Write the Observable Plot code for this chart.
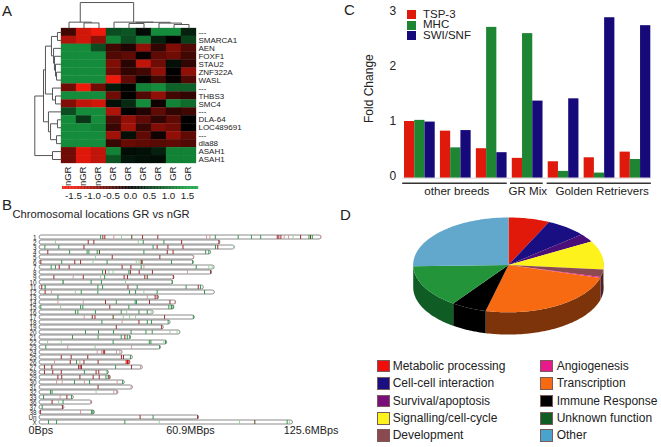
<!DOCTYPE html>
<html>
<head>
<meta charset="utf-8">
<script src="https://cdn.jsdelivr.net/npm/d3@7"></script>
<script src="https://cdn.jsdelivr.net/npm/@observablehq/plot@0.6"></script>
<style>
html,body{margin:0;padding:0;background:#fff}
#fig{position:relative;width:661px;height:447px;overflow:hidden;font-family:"Liberation Sans",Arial,sans-serif;color:#222}
#fig svg{position:absolute}
.t{position:absolute;white-space:nowrap;transform:translateY(-50%);line-height:1}
.s{position:absolute;box-sizing:border-box;border:1px solid #7d5a5a}
</style>
</head>
<body>
<div id="fig"></div>
<script>
// ---------- Panel A: heat map ----------
const heatRows = ["---","SMARCA1","AEN","FOXF1","STAU2","ZNF322A","WASL","---","THBS3","SMC4","---","DLA-64","LOC489691","---","dla88","ASAH1","ASAH1"];
const heatCols = ["nGR","nGR","nGR","GR","GR","GR","GR","GR","GR"];
const heatValues = [
 [-0.4,-1.3,-1.5, 0.7, 0.8, 0.1, 1.3, 1.3, 0.3],
 [-1.1,-1.3,-0.9, 1.2, 0.7, 1.1, 0.3, 0.0, 0.6],
 [ 1.3, 1.3, 0.7,-0.4,-0.2,-0.9,-0.3,-0.8,-0.5],
 [ 1.3, 1.3, 1.3,-0.5,-0.6,-0.05,-0.6,-0.7,-0.4],
 [ 1.3, 1.3, 1.3,-0.8,-0.25,-1.2,-0.7, 0.15,-0.3],
 [ 1.3, 1.3, 1.3,-0.7,-0.3,-0.4,-0.9, 0.0,-0.9],
 [ 1.3, 1.3, 1.3,-1.5,-0.6,-0.05,-0.4,-0.05,-0.5],
 [-0.7,-1.8,-0.7, 0.25, 0.05, 1.2, 1.3, 0.9, 0.9],
 [ 1.3, 1.3, 1.3,-0.7, 0.02,-0.5,-0.9,-0.4,-0.3],
 [-0.8,-1.2,-1.3, 0.15, 0.4, 1.3,-0.1, 1.2, 1.0],
 [ 0.7, 1.3, 1.3,-1.1, 0.02,-0.2,-0.6,-0.3,-0.4],
 [ 1.3, 0.5, 1.3,-0.5,-0.9,-0.6,-0.3,-0.6, 0.0],
 [ 1.3, 1.3, 1.2,-0.35,-1.0,-0.35,-0.8,-0.7, 0.0],
 [ 1.3, 1.3, 1.3,-1.0, 0.15,-0.6,-0.1,-0.9,-0.6],
 [ 1.3, 1.3, 1.3,-0.35,-0.65,-0.6,-0.55,-0.6,-0.5],
 [-0.7,-1.4,-1.2, 1.2, 0.12, 0.15, 0.3, 1.2, 1.2],
 [-0.7,-1.4,-1.2, 0.8, 0.2, 0.15, 0.12, 1.2, 1.2]
];
// merges: [height, branch a, branch b, child height a, child height b]
const topMerges = [
 [-0.7,1.5,2.5,0,0],[-0.8,0.5,2,0,-0.7],
 [-0.63,4.5,5.5,0,0],[-0.5,7.5,8.5,0,0],[-0.68,6.5,8,0,-0.5],[-0.78,5,7.25,-0.63,-0.68],[-0.8,3.5,6.125,0,-0.78],
 [-3.27,1.25,4.81,-0.8,-0.8]
];
const leftMerges = [
 [-0.27,0.5,1.5,0,0],[-0.33,5.5,6.5,0,0],[-0.4,4.5,6,0,-0.33],[-0.47,3.5,5.25,0,-0.4],[-0.53,2.5,4.375,0,-0.47],
 [-0.67,1,3.44,-0.27,-0.53],[-0.4,8.5,9.5,0,0],[-0.6,7.5,9,0,-0.4],[-1.07,2.22,8.25,-0.67,-0.6],
 [-0.27,11.5,12.5,0,0],[-0.33,13.5,14.5,0,0],[-0.73,12,14,-0.27,-0.33],[-0.87,10.5,13,0,-0.73],
 [-1.2,5.2,11.75,-1.07,-0.87],[-0.6,15.5,16.5,0,0],[-1.78,8.5,16,-1.2,-0.6]
];
const heatTicks = [-1.5,-1,-0.5,0,0.5,1,1.5];
const heatColor = {type:"linear",domain:[-1.5,0,1.5],range:["#f01a0c","#000000","#17a244"],clamp:true};

// ---------- Panel B: chromosome map ----------
const chromNames = ["1","2","3","4","5","6","7","8","9","10","11","12","13","14","15","16","17","18","19","20","21","22","23","24","25","26","27","28","29","30","31","32","33","36","37","38","Un","X"];
const chromLengths = [125.6,80.6,87,76.5,69,68.8,78,76.9,60.1,59.5,73.2,78.1,53.3,60.9,60.1,50.9,69.2,58.4,55.4,62.8,40.8,56.9,54.1,37,41.6,40.5,46,30.9,31.8,38,41.6,35.2,15.3,23.5,11.1,24.7,71.1,112.9];
// site kind + position in Mbp; r red, p pale red, g green, l pale green, d dark green, m mixed, b bright red
const chromSites = [
 "g27.2 r28.2 r29.1 p33.1 l36.5 m41.1 r45.9 r52.7 p74.4 p75.9 g78.3 g88.5 g94.4 g98.5 r105.9 r106.6 r107.5 p109 p110.9 l112.9 r116.3 g120 m120.7 g121.5 p125.2",
 "l7.1 r21.7 r24.2 l44 g46.2 g55.4 r63.3 r79.9",
 "g2.4 g8.6 r19.8 g50.6 r52.4 r57.2 r63.9 g78.4 r79.4 l86.5",
 "r3.7 g13.4 g21.2 g22 g25.7 m26.7 g46.5 r56.9 r59.5 g74 g75.4",
 "l24.9 r32.4 r53.6 p68.5",
 "r0.6 g9.9 r15.7 r18.3 l23.8 g30.1 l43.1 l44.3 r45.3 m45.7 g58.8 g68.2",
 "g5.2 g7.1 r8.8 r13.2 r36.8 r40.7 g45.3 p46.5 g69.8 l75.4 l76.9",
 "g28.1 r29.4 l30.9 l32.8 g39.8 r40.5 r44.4 r50.3 p65.9 r76.2",
 "r6.4 p15 r19.5 l27.2 g29 r37.7 r39.2 r46.9 m48 r59.6",
 "d10.5 g23 g27.6 l38.3 g59.1",
 "r1 d2.5 g26 g28.1 r39.4 g43.5 g65.3 r70.7 g71.7",
 "r2.5 p5.3 l16 g18.6 g26 g40.1 g42.8 l46.5 g52.4 g73.5",
 "g8.2 p48 r51.5 r52.4",
 "p8.2 p19.5 r29.4 g34.2 g42.6 g43.2 r49 r58.1 p60.3",
 "g0.6 l9.4 g18.3 g19.3 r31.3 g39.8 g57.6 d58.7 g59.5",
 "g16 g17.1 g24.9 g36.4 l38.8 g44.3 g48 l49.7",
 "p19.9 r23.5 r24.7 m32.8 l37.3 l40.1 l42.8 r55.7 g68.5",
 "g27.8 p36.8 r44.3 g48 g49.9 g57.3",
 "r34.2 r54.4",
 "g20.5 g26.3 g33 g40.8 g47.4 g50.2 l58.1 l61.3",
 "g14.7 g26.1 g36.4 r38 g39.1 g40.2",
 "l3.6 l9.7 g32.8 g48.9 g49.6 l55.4 g56.1",
 "g2.8 p12.6 l24.8 p41 g53.5",
 "p25.7 p27.6 r28.4 r29 p34.3 p35.8",
 "r9.7 r14.1 r21.5 r36.5 r37.4 g40.5",
 "p6.7 r13.7 g16.5 p18 r19.8 r26.1 b38.6 b39.2 b39.8",
 "r2.2 r5.5 r17.4 r18.1 r18.7 g33.9 r41 p45",
 "r2.2 r5.9 r9.7 g20 r25.2 r26.4 g30.1",
 "r8.2 r9.9 r18 r23.9 r26.6 g29.6 g30.6 r31",
 "p7.6 p10.1 g15.6 p20 g22.3 p34.6 g37",
 "r26.1 p40.8",
 "g4.9 g5.6 l25.2 p33.1 p34.3",
 "g1.8 p9.2 r12.2 g14.3",
 "r5.6 l8.5 g10.5 p22.7",
 "g1.2 r10.2",
 "r0.4 p18.3 g23.2 d23.8",
 "r44.8 g50.6 r70.4",
 "g4 g7.6 g38 l53.3 l89.1 m95.9 g110.3 l111.4"
];
const siteColors = {r:"#a52a2f",p:"#d49a9a",g:"#35994e",l:"#9bcf9f",d:"#147a30",m:"#5d4a12",b:"#d40d0d"};
const axisLabels = ["0Bps","60.9MBps","125.6MBps"];
const axisLabelStarts = [-4.9,56.4,108.8];

// ---------- Panel C: fold change bars ----------
const tsp3 = [1.0,0.83,0.52,0.35,0.29,0.36,0.46];
const mhc = [1.02,0.535,2.66,2.55,0.12,0.09,0.33];
const swisnf = [0.99,0.84,0.45,1.36,1.40,2.83,2.69];
const barSeries = [["TSP-3",tsp3,"#df1a0c"],["MHC",mhc,"#1e8532"],["SWI/SNF",swisnf,"#16097a"]];
const foldTicks = [3,2,1,0];
const breedGroups = [
 {label:"other breeds",start:-0.05,end:2.86,at:1.457},
 {label:"GR Mix",start:2.95,end:3.86,at:3.43},
 {label:"Golden Retrievers",start:3.97,end:6.87,at:5.5}
];

// ---------- Panel D: 3-D pie ----------
const pieNames = ["Metabolic processing","Cell-cell interaction","Survival/apoptosis","Signalling/cell-cycle","Development","Angiogenesis","Transcription","Immune Response","Unknown function","Other"];
const pieValues = [7,6.9,2.9,9.75,2.6,0.3,24.4,6,14.7,25.45];
const pieTop = ["#e1190b","#1a0f82","#4a0f78","#fdf21b","#8b4a50","#e8198b","#f76a12","#000000","#23943a","#62a7cc"];
const pieSide = ["#8a100a","#100a50","#2c0a48","#4a2a14","#4a2420","#6e0c44","#7d340b","#000000","#0f5c24","#3a6a82"];
const legendColors = ["#f00d0a","#1a0f82","#7a0f7a","#fdf21b","#8b4a50","#e8198b","#f76a12","#000000","#0f5c24","#4aa3cc"];

// ---------- helpers ----------
const fig = document.getElementById("fig");
const baseStyle = {background:"transparent",fontFamily:"'Liberation Sans',Arial,sans-serif",color:"#222",overflow:"visible"};
function panel(left,top,width,height,opts){
  const svg = Plot.plot({width,height,margin:0,style:baseStyle,...opts});
  svg.style.left = left+"px"; svg.style.top = top+"px";
  fig.appendChild(svg);
}
function label(text,x,y,size){
  const d=document.createElement("div");d.className="t";d.textContent=text;
  d.style.left=x+"px";d.style.top=y+"px";d.style.fontSize=size+"px";fig.appendChild(d);
}
function swatch(x,y,w,h,color,border){
  const d=document.createElement("div");d.className="s";
  d.style.cssText+=`left:${x}px;top:${y}px;width:${w}px;height:${h}px;background:${color};`+(border?"":"border:none;");
  fig.appendChild(d);
}
function mergeLinks(ms){
  return ms.flatMap(([h,a,b,ha,hb])=>[
    {h1:h,h2:h,p1:a,p2:b},{h1:h,h2:ha,p1:a,p2:a},{h1:h,h2:hb,p1:b,p2:b}
  ]);
}

// Panel letters and title
label("A",2,10,15); label("B",2,204,15); label("C",344,9,15); label("D",340,214,15);
label("Chromosomal locations GR vs nGR",12.5,214.5,11.2);

// Panel A
const cells = heatValues.flatMap((row,r)=>row.map((value,c)=>({r,c,value})));
panel(0,0,260,205,{
  x:{domain:[0,9],range:[61,196],axis:null},
  y:{domain:[0,17],range:[28,163],axis:null},
  color:heatColor,
  marks:[
    Plot.rect(cells,{x1:d=>d.c,x2:d=>d.c+1,y1:d=>d.r,y2:d=>d.r+1,fill:"value",stroke:"value",strokeWidth:0.3}),
    Plot.link(mergeLinks(topMerges),{x1:"p1",x2:"p2",y1:"h1",y2:"h2",stroke:"#555",strokeWidth:1}),
    Plot.link(mergeLinks(leftMerges),{y1:"p1",y2:"p2",x1:"h1",x2:"h2",stroke:"#555",strokeWidth:1}),
    Plot.text(heatRows,{x:()=>9.13,y:(d,i)=>i+0.5,text:d=>d,textAnchor:"start",fontSize:8,fill:"#222"}),
    Plot.text(heatCols,{x:(d,i)=>i+0.45,y:()=>17.38,text:d=>d,rotate:-90,textAnchor:"end",fontSize:9.5,fill:"#222"})
  ]
});
panel(0,183,260,22,{
  x:{domain:[-1.5,1.5],range:[73,187],axis:null},
  y:{domain:[0,1],range:[3,6],axis:null},
  color:heatColor,
  marks:[
    Plot.rect(d3.range(-1.79,1.79,0.02),{x1:d=>d,x2:d=>d+0.025,y1:()=>0,y2:()=>1,fill:d=>d}),
    Plot.text(heatTicks,{x:d=>d,y:()=>3.2,text:d=>d.toFixed(1),fontSize:9.8,fill:"#222"})
  ]
});

// Panel B
const chroms = chromNames.map((name,i)=>({name,len:chromLengths[i]}));
const sites = chromSites.flatMap((s,i)=>s.split(" ").map(t=>({name:chromNames[i],kind:t[0],pos:+t.slice(1),color:siteColors[t[0]]})));
panel(0,205,340,242,{
  x:{domain:[0,125.6],range:[39,321],axis:null},
  y:{type:"band",domain:chromNames,range:[19,229.9],paddingInner:0.22,paddingOuter:0.11,axis:null},
  color:{type:"identity"},
  marks:[
    Plot.text(chromNames,{x:()=>-1.3,y:d=>d,text:d=>d,textAnchor:"end",fontSize:6.3,fill:"#222"}),
    Plot.barX(chroms,{x1:()=>0,x2:"len",y:"name",fill:"#fff",stroke:"#8c8c8c",strokeWidth:1,rx:2}),
    Plot.tickX(sites,{x:"pos",y:"name",stroke:"color",strokeWidth:1}),
    Plot.text(axisLabels,{x:(d,i)=>axisLabelStarts[i],y:()=>"X",dy:8,text:d=>d,textAnchor:"start",fontSize:10.8,fill:"#222"})
  ]
});

// Panel C
const bars = barSeries.flatMap(([name,vals,color],j)=>vals.map((v,i)=>({name,v,color,x1:i+j*0.285,x2:i+(j+1)*0.285})));
panel(340,0,321,205,{
  x:{domain:[0,6.855],range:[64,310.3],axis:null},
  y:{domain:[0,3],range:[177.7,7.6],axis:null},
  color:{type:"identity"},
  marks:[
    Plot.rectY(bars,{x1:"x1",x2:"x2",y1:()=>0,y2:"v",fill:"color"}),
    Plot.ruleY([0],{x1:-0.05,x2:6.87,stroke:"#ccc",strokeWidth:0.8}),
    Plot.text(foldTicks,{x:()=>-0.23,y:d=>0.035+d*0.973,text:d=>String(d),textAnchor:"end",fontSize:12,fill:"#222"}),
    Plot.text(["Fold Change"],{x:()=>-0.975,y:()=>1.58,text:d=>d,rotate:-90,fontSize:12,fill:"#222"}),
    Plot.ruleY(breedGroups,{y:()=>-0.09,x1:"start",x2:"end",stroke:"#333",strokeWidth:1.6}),
    Plot.text(breedGroups,{x:"at",y:()=>-0.235,text:"label",fontSize:11.6,fill:"#222"})
  ]
});
[["TSP-3",10],["MHC",20.5],["SWI/SNF",31]].forEach(([n,y],i)=>{
  swatch(406.7,y,9.5,9,barSeries[i][2]); label(n,423,y+4.5,11.5);
});

// Panel D
const arcs = d3.pie().sort(null).startAngle(0).endAngle(2*Math.PI)(pieValues);
const depth = 0.47;
const topPts=[], sidePts=[];
arcs.forEach((a,i)=>{
  const n=Math.max(2,Math.ceil((a.endAngle-a.startAngle)/0.02));
  const ang=d3.range(n+1).map(k=>a.startAngle+(a.endAngle-a.startAngle)*k/n);
  topPts.push({id:i,px:0,py:0,fill:pieTop[i]});
  ang.forEach(t=>topPts.push({id:i,px:Math.sin(t),py:Math.cos(t),fill:pieTop[i]}));
  const f=ang.filter(t=>Math.cos(t)<0.09);
  if(f.length>1){
    f.forEach(t=>sidePts.push({id:i,px:Math.sin(t),py:Math.cos(t),fill:pieSide[i]}));
    f.slice().reverse().forEach(t=>sidePts.push({id:i,px:Math.sin(t),py:Math.cos(t)-depth,fill:pieSide[i]}));
  }
});
panel(340,205,321,150,{
  x:{domain:[-1,1],range:[72.7,263.3],axis:null},
  y:{domain:[-1,1],range:[106.8,12],axis:null},
  color:{type:"identity"},
  marks:[
    Plot.line(sidePts,{x:"px",y:"py",z:"id",fill:"fill",stroke:null}),
    Plot.line(topPts,{x:"px",y:"py",z:"id",fill:"fill",stroke:null})
  ]
});
const lys=[359.5,377,394.5,412,429];
pieNames.forEach((n,i)=>{
  const col=i<5?0:1, row=i<5?i:i-5;
  const sx=col?540.3:376.7, tx=col?556.7:392.7;
  swatch(sx,lys[row],13,12.5,legendColors[i],true);
  label(n,tx,lys[row]+6.2,12);
});
</script>
</body>
</html>
